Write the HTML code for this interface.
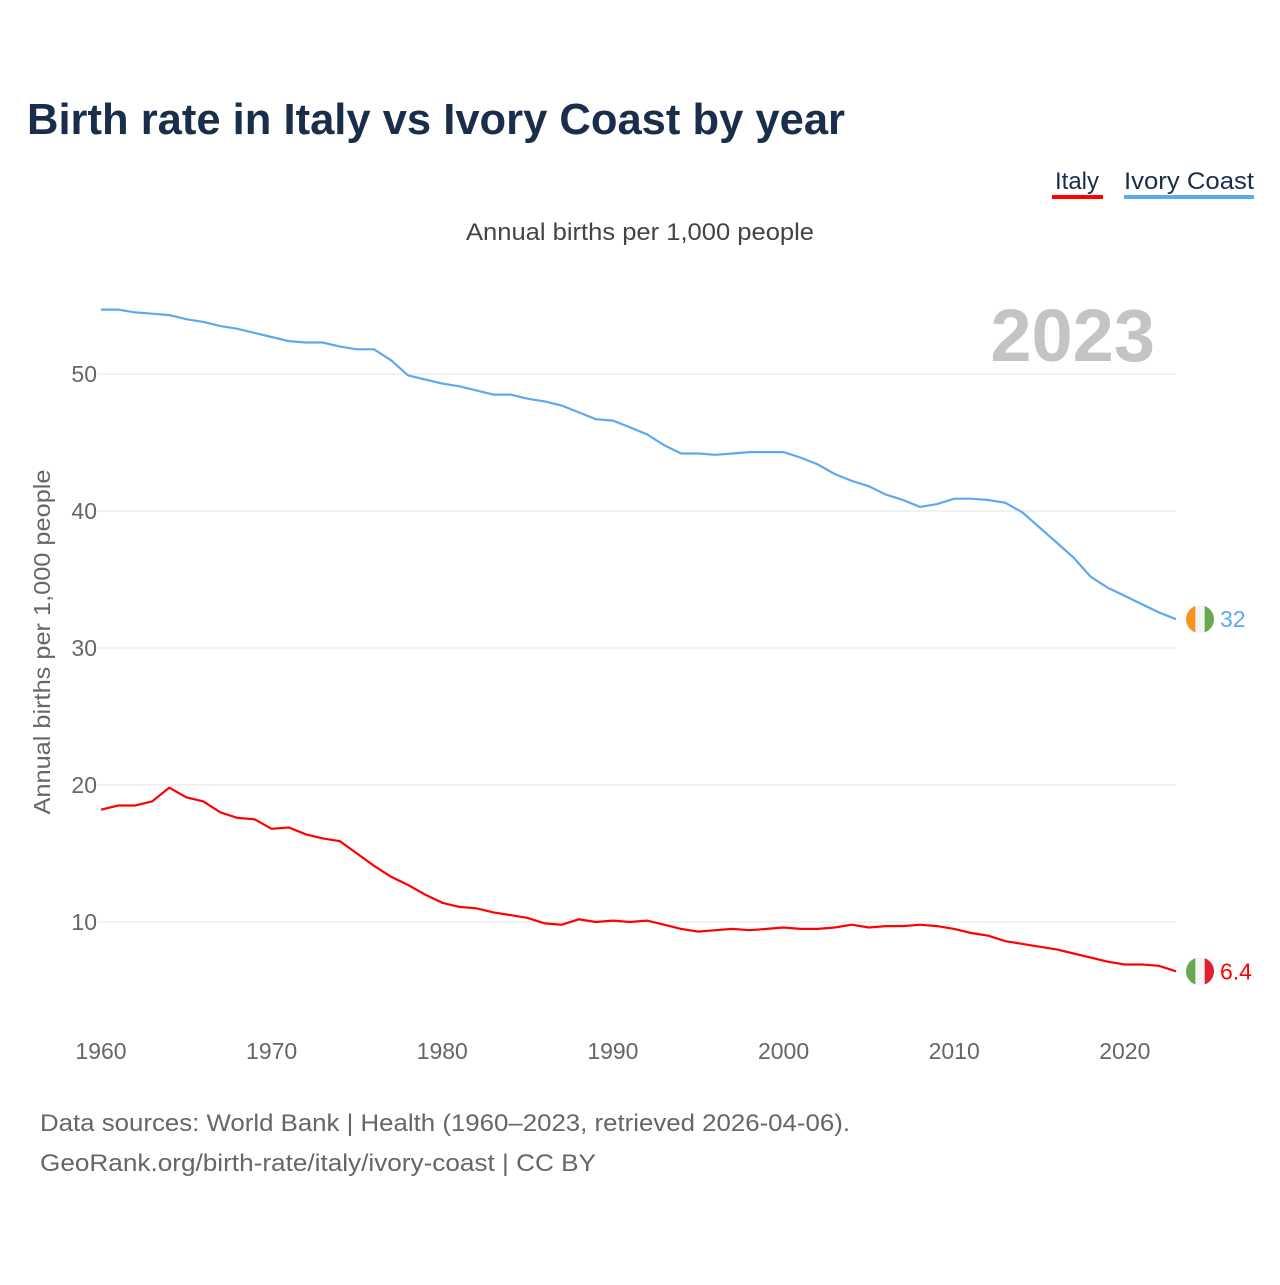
<!DOCTYPE html>
<html><head><meta charset="utf-8"><style>
body{margin:0;background:#fff;font-family:"Liberation Sans",sans-serif;}
svg text{font-family:"Liberation Sans",sans-serif;}
</style></head><body>
<svg id="chart" width="1280" height="1280" viewBox="0 0 1280 1280" xmlns="http://www.w3.org/2000/svg">
<rect width="1280" height="1280" fill="#fff"/>
<text x="27" y="134" font-size="44" font-weight="bold" fill="#1a2e4c" textLength="818" lengthAdjust="spacingAndGlyphs">Birth rate in Italy vs Ivory Coast by year</text>
<g><text x="1077" y="189" font-size="24" fill="#1a2e4c" text-anchor="middle">Italy</text><rect x="1052" y="195" width="51" height="4" fill="#ff0000"/></g>
<g><text x="1189" y="189" font-size="24" fill="#1a2e4c" text-anchor="middle" textLength="130" lengthAdjust="spacingAndGlyphs">Ivory Coast</text><rect x="1124" y="195" width="130" height="4" fill="#5ea9ee"/></g>
<text x="466" y="240" font-size="24" fill="#444" textLength="348" lengthAdjust="spacingAndGlyphs">Annual births per 1,000 people</text>
<text x="1155" y="361" font-size="74" font-weight="bold" fill="#c4c4c4" text-anchor="end">2023</text>
<text transform="translate(50,642) rotate(-90)" font-size="23" fill="#666" text-anchor="middle" textLength="345" lengthAdjust="spacingAndGlyphs">Annual births per 1,000 people</text>
<g id="grid"></g><g id="series"></g>
<text x="40" y="1131" font-size="24" fill="#666" textLength="810" lengthAdjust="spacingAndGlyphs">Data sources: World Bank | Health (1960–2023, retrieved 2026-04-06).</text>
<text x="40" y="1171" font-size="24" fill="#666" textLength="556" lengthAdjust="spacingAndGlyphs">GeoRank.org/birth-rate/italy/ivory-coast | CC BY</text>
</svg>
<script>
const startYear = 1960;
const xTicks = [1960,1970,1980,1990,2000,2010,2020];
const yTicks = [10,20,30,40,50];
const italy = [18.2,18.5,18.5,18.8,19.8,19.1,18.8,18.0,17.6,17.5,16.8,16.9,16.4,16.1,15.9,15.0,14.1,13.3,12.7,12.0,11.4,11.1,11.0,10.7,10.5,10.3,9.9,9.8,10.2,10.0,10.1,10.0,10.1,9.8,9.5,9.3,9.4,9.5,9.4,9.5,9.6,9.5,9.5,9.6,9.8,9.6,9.7,9.7,9.8,9.7,9.5,9.2,9.0,8.6,8.4,8.2,8.0,7.7,7.4,7.1,6.9,6.9,6.8,6.4];
const ivoryCoast = [54.7,54.7,54.5,54.4,54.3,54.0,53.8,53.5,53.3,53.0,52.7,52.4,52.3,52.3,52.0,51.8,51.8,51.0,49.9,49.6,49.3,49.1,48.8,48.5,48.5,48.2,48.0,47.7,47.2,46.7,46.6,46.1,45.6,44.8,44.2,44.2,44.1,44.2,44.3,44.3,44.3,43.9,43.4,42.7,42.2,41.8,41.2,40.8,40.3,40.5,40.9,40.9,40.8,40.6,39.9,38.8,37.7,36.6,35.2,34.4,33.8,33.2,32.6,32.1];
const endLabels = ["6.4","32"];
const NS="http://www.w3.org/2000/svg";
const x = yr => 101 + (yr-1960)*(1176-101)/63;
const y = v => 1059 - v*13.7;
const grid=document.getElementById('grid'), ser=document.getElementById('series');
function mk(tag,attrs,parent){const e=document.createElementNS(NS,tag);for(const k in attrs)e.setAttribute(k,attrs[k]);parent.appendChild(e);return e;}
yTicks.forEach(v=>{
  const l=mk('line',{x1:98,x2:1176,y1:y(v),y2:y(v),stroke:'#e6e6e6','stroke-width':1},grid);
  
  
  const t=mk('text',{x:97,y:y(v)+8,'font-size':23,fill:'#666','text-anchor':'end'},grid);t.textContent=v;
  
  
});
xTicks.forEach(yr=>{
  const t=mk('text',{x:x(yr),y:1059,'font-size':23,fill:'#666','text-anchor':'middle'},grid);t.textContent=yr;
  
  
});
function line(data,color,name){
  const p=mk('path',{d:data.map((v,i)=>(i?'L':'M')+x(startYear+i).toFixed(1)+','+y(v).toFixed(1)).join(''),fill:'none',stroke:color,'stroke-width':2.2},ser);
  
  
}
line(italy,'#ff0000','italy-line');
line(ivoryCoast,'#5ea9ee','ivory-coast-line');
function flag(v,cols,color,label,name){
  const cy=y(v),cx=1200,r=14;
  const g=mk('g',{},ser);
  
  
  mk('clipPath',{id:'c'+name},g);
  mk('circle',{cx:cx,cy:cy,r:r},g.lastChild);
  const gg=mk('g',{'clip-path':'url(#c'+name+')'},g);
  cols.forEach((c,i)=>mk('rect',{x:cx-r+i*(2*r/3),y:cy-r,width:2*r/3+0.5,height:2*r,fill:c},gg));
  const t=mk('text',{x:1220,y:cy+8,'font-size':23,fill:color},g);t.textContent=label;
}
flag(italy[italy.length-1],['#6aa84f','#f4f4f4','#e0202c'],'#ff0000',endLabels[0],'italy-end-label');
flag(ivoryCoast[ivoryCoast.length-1],['#f7941d','#f4f4f4','#6aa84f'],'#5ea9ee',endLabels[1],'ivory-coast-end-label');
</script>
</body></html>
